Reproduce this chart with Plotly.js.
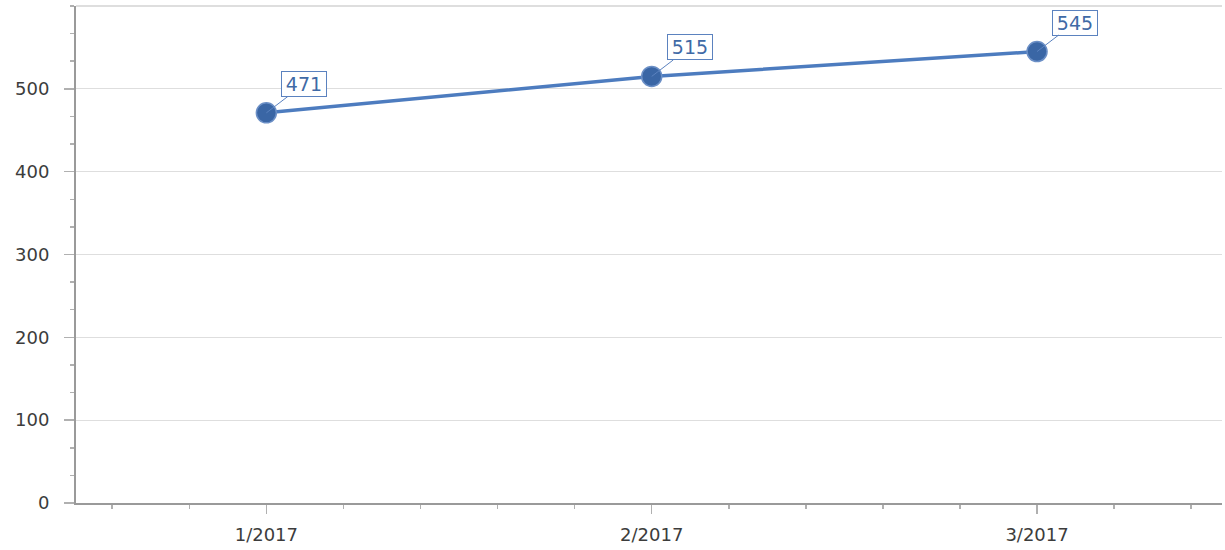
<!DOCTYPE html>
<html>
<head>
<meta charset="utf-8">
<script src="https://cdn.plot.ly/plotly-3.0.1.min.js"></script>
<style>html,body{margin:0;padding:0;background:#fff;}#chart{width:1225px;height:550px;}</style>
</head>
<body>
<div id="chart"></div>
<script>
const categories = ['1/2017', '2/2017', '3/2017'];
const values = [471, 515, 545];
const yTicks = [0, 100, 200, 300, 400, 500];

const xIdx = categories.map((c, i) => i);
const textBlue = '#3f6aa6';
const font = 'DejaVu Sans, Verdana, sans-serif';

const trace = {
  x: xIdx,
  y: values,
  type: 'scatter',
  mode: 'lines+markers',
  line: {color: '#4d7cbf', width: 3.5},
  marker: {size: 20, color: '#3a66a5', line: {color: '#6b8fc6', width: 1.5}},
  hoverinfo: 'none',
  showlegend: false,
  cliponaxis: false
};

const annotations = values.map((v, i) => ({
  x: xIdx[i], y: v, xref: 'x', yref: 'y',
  text: String(v),
  showarrow: true, arrowhead: 0, arrowwidth: 1, arrowcolor: '#5b82bf',
  ax: 38, ay: -29,
  font: {family: font, size: 19, color: textBlue},
  bgcolor: '#ffffff', bordercolor: '#5b82bf', borderwidth: 1, borderpad: 1,
  width: 42
}));

const layout = {
  width: 1225, height: 550,
  margin: {l: 76, r: 3, t: 6, b: 47},
  paper_bgcolor: '#ffffff', plot_bgcolor: '#ffffff',
  font: {family: font, size: 18, color: '#3c3c3c'},
  xaxis: {
    type: 'linear', range: [-0.494, 2.48],
    tickvals: xIdx, ticktext: categories,
    showgrid: false, zeroline: false,
    showline: true, linecolor: '#9a9a9a', linewidth: 2,
    ticks: 'outside', ticklen: 9, tickwidth: 1.5, tickcolor: '#b0b0b0',
    minor: {dtick: 0.2, tick0: 0, ticks: 'outside', ticklen: 4, tickwidth: 1.5, tickcolor: '#b0b0b0', showgrid: false},
    tickfont: {family: font, size: 18, color: '#3c3c3c'},
    ticklabelstandoff: 5
  },
  yaxis: {
    range: [0, 600],
    tickvals: yTicks,
    showgrid: true, gridcolor: '#dedede', gridwidth: 1,
    zeroline: false,
    showline: true, linecolor: '#9a9a9a', linewidth: 2,
    ticks: 'outside', ticklen: 10, tickwidth: 1.5, tickcolor: '#b0b0b0',
    minor: {dtick: 100/3, tick0: 0, ticks: 'outside', ticklen: 4, tickwidth: 1.5, tickcolor: '#b0b0b0', showgrid: false},
    tickfont: {family: font, size: 18, color: '#3c3c3c'},
    ticklabelstandoff: 11
  },
  shapes: [{type: 'line', xref: 'paper', yref: 'paper', x0: 0, x1: 1, y0: 1, y1: 1, line: {color: '#dedede', width: 2}, layer: 'below'}],
  annotations: annotations
};

Plotly.newPlot('chart', [trace], layout, {displayModeBar: false, staticPlot: true});
</script>
</body>
</html>
